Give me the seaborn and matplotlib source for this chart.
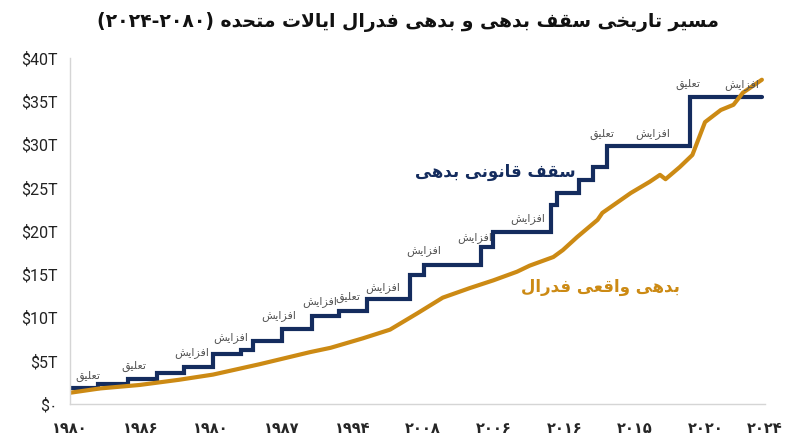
import numpy as np
import pandas as pd
import matplotlib
matplotlib.use('Agg')
import matplotlib.pyplot as plt
import seaborn as sns

# Debt ceiling (step line) - year of change and new limit, trillion $
ceiling_years = [1980.0, 1981.8, 1983.7, 1985.5, 1987.2, 1989.05, 1990.8, 1991.6, 1993.4,
                 1995.3, 1997.0, 1998.8, 2001.5, 2002.4, 2006.0, 2006.8, 2010.45, 2010.8,
                 2012.2, 2013.1, 2014.0, 2019.25, 2023.8]
ceiling_vals = [1.8, 2.3, 2.9, 3.6, 4.3, 5.8, 6.2, 7.3, 8.7,
                10.2, 10.7, 12.1, 14.9, 16.1, 18.2, 19.9, 23.0, 24.4,
                25.9, 27.4, 29.8, 35.5, 35.5]

# Actual federal debt, trillion $
debt_years = [1980.0, 1981.9, 1984.4, 1986.9, 1989.05, 1992.0, 1995.2, 1996.5, 1998.55,
              2000.26, 2002.0, 2003.6, 2005.3, 2006.8, 2008.3, 2009.1, 2010.6, 2011.2,
              2012.1, 2013.4, 2013.7, 2015.5, 2016.7, 2017.35, 2017.7, 2018.6, 2019.4,
              2020.2, 2021.2, 2022.0, 2022.6, 2023.8]
debt_vals = [1.3, 1.8, 2.2, 2.8, 3.4, 4.6, 6.0, 6.5, 7.6,
             8.6, 10.5, 12.3, 13.4, 14.3, 15.3, 16.0, 17.0, 17.8,
             19.3, 21.3, 22.1, 24.4, 25.7, 26.5, 26.0, 27.4, 28.8,
             32.6, 34.0, 34.6, 36.0, 37.5]

# event labels on the ceiling line
events = ['تعلیق', 'تعلیق', 'افزایش', 'افزایش', 'افزایش', 'افزایش', 'تعلیق', 'افزایش',
          'افزایش', 'افزایش', 'افزایش', 'تعلیق', 'افزایش', 'تعلیق', 'افزایش']
event_years = [1981.1, 1984.05, 1987.7, 1990.2, 1993.2, 1995.8, 1997.6, 1999.8,
               2002.4, 2005.6, 2009.0, 2013.7, 2016.9, 2019.1, 2022.5]
event_vals = [3.2, 4.4, 5.9, 7.7, 10.2, 11.9, 12.3, 13.5,
              17.7, 19.3, 21.5, 31.2, 31.3, 36.9, 36.9]

xtick_labels = ['۱۹۸۰', '۱۹۸۶', '۱۹۸۰', '۱۹۸۷', '۱۹۹۴', '۲۰۰۸', '۲۰۰۶', '۲۰۱۶', '۲۰۱۵', '۲۰۲۰', '۲۰۲۴']
ytick_vals = [0, 5, 10, 15, 20, 25, 30, 35, 40]
ytick_labels = ['$۰', '$5T', '$10T', '$15T', '$20T', '$25T', '$30T', '$35T', '$40T']

NAVY = '#142c5e'
GOLD = '#cc8a14'

# --- minimal Persian shaping (presentation forms) + visual reordering ---
FORMS = {
    'ا': ('\uFE8D', '\uFE8E', None, None),
    'ب': ('\uFE8F', '\uFE90', '\uFE91', '\uFE92'),
    'ت': ('\uFE95', '\uFE96', '\uFE97', '\uFE98'),
    'ح': ('\uFEA1', '\uFEA2', '\uFEA3', '\uFEA4'),
    'خ': ('\uFEA5', '\uFEA6', '\uFEA7', '\uFEA8'),
    'د': ('\uFEA9', '\uFEAA', None, None),
    'ر': ('\uFEAD', '\uFEAE', None, None),
    'ز': ('\uFEAF', '\uFEB0', None, None),
    'س': ('\uFEB1', '\uFEB2', '\uFEB3', '\uFEB4'),
    'ش': ('\uFEB5', '\uFEB6', '\uFEB7', '\uFEB8'),
    'ع': ('\uFEC9', '\uFECA', '\uFECB', '\uFECC'),
    'ف': ('\uFED1', '\uFED2', '\uFED3', '\uFED4'),
    'ق': ('\uFED5', '\uFED6', '\uFED7', '\uFED8'),
    'ل': ('\uFEDD', '\uFEDE', '\uFEDF', '\uFEE0'),
    'م': ('\uFEE1', '\uFEE2', '\uFEE3', '\uFEE4'),
    'ن': ('\uFEE5', '\uFEE6', '\uFEE7', '\uFEE8'),
    'ه': ('\uFEE9', '\uFEEA', '\uFEEB', '\uFEEC'),
    'و': ('\uFEED', '\uFEEE', None, None),
    'ی': ('\uFEEF', '\uFEF0', '\uFEF3', '\uFEF4'),
}


def shape_word(word):
    # lam + alef -> one ligature unit
    units = []
    i = 0
    while i < len(word):
        if word[i] == 'ل' and i + 1 < len(word) and word[i + 1] == 'ا':
            units.append('LA')
            i += 2
        else:
            units.append(word[i])
            i += 1

    def dual(u):
        return u in FORMS and FORMS[u][2] is not None

    out = []
    for k, u in enumerate(units):
        prev_join = k > 0 and dual(units[k - 1])
        next_join = dual(u) and k + 1 < len(units) and (units[k + 1] in FORMS or units[k + 1] == 'LA')
        if u == 'LA':
            out.append('\uFEFC' if prev_join else '\uFEFB')
            continue
        if u not in FORMS:
            out.append(u)
            continue
        iso, fin, ini, med = FORMS[u]
        if prev_join and next_join:
            out.append(med)
        elif prev_join:
            out.append(fin)
        elif next_join:
            out.append(ini)
        else:
            out.append(iso)
    return ''.join(out)


def fa(text):
    shaped = ' '.join(shape_word(w) for w in text.split(' '))
    return shaped[::-1]


sns.set_style('white')
plt.rcParams['font.family'] = ['Roboto', 'DejaVu Sans']

fig = plt.figure(figsize=(8, 4.47), dpi=100)
ax = fig.add_axes([0.0875, 0.0962, 0.8688, 0.7738])

sns.lineplot(x=ceiling_years, y=ceiling_vals, ax=ax, color=NAVY, linewidth=3.0,
             drawstyle='steps-post', estimator=None, sort=False, solid_joinstyle='miter')
sns.lineplot(x=debt_years, y=debt_vals, ax=ax, color=GOLD, linewidth=3.0,
             estimator=None, sort=False, solid_joinstyle='round', solid_capstyle='round')

for lab, xv, yv in zip(events, event_years, event_vals):
    ax.text(xv, yv, fa(lab), ha='center', va='center', fontsize=8, color='#555555',
            family=['DejaVu Sans'])

ax.text(2006.9, 26.8, fa('سقف قانونی بدهی'), ha='center', va='center', fontsize=12,
        fontweight='bold', color=NAVY, family=['DejaVu Sans'])
ax.text(2013.55, 13.5, fa('بدهی واقعی فدرال'), ha='center', va='center', fontsize=12,
        fontweight='bold', color=GOLD, family=['DejaVu Sans'])

fig.text(0.51, 0.95, '(۲۰۲۴-۲۰۸۰) ' + fa('مسیر تاریخی سقف بدهی و بدهی فدرال ایالات متحده'),
         ha='center', va='center', fontsize=13.5, fontweight='bold', color='#111111',
         family=['DejaVu Sans'])

xticks = [1980 + 4.47 * i for i in range(10)] + [2024]
ax.set_xlim(1980, 2024)
ax.set_ylim(0, 40)
ax.set_xticks(xticks)
ax.set_xticklabels(xtick_labels, fontsize=10.5, fontweight='bold', family=['DejaVu Sans'])
ax.set_yticks(ytick_vals)
ax.set_yticklabels(ytick_labels, fontsize=11.5, color='#222222')
ax.tick_params(axis='x', length=5, width=1, color='#cccccc', pad=7)
ax.tick_params(axis='y', length=5, width=1, color='#cccccc', pad=4)
ax.set_xlabel('')
ax.set_ylabel('')

for side in ['top', 'right']:
    ax.spines[side].set_visible(False)
for side in ['left', 'bottom']:
    ax.spines[side].set_color('#d5d5d5')
    ax.spines[side].set_linewidth(1)

fig.savefig('out.png', dpi=100, facecolor='white')
